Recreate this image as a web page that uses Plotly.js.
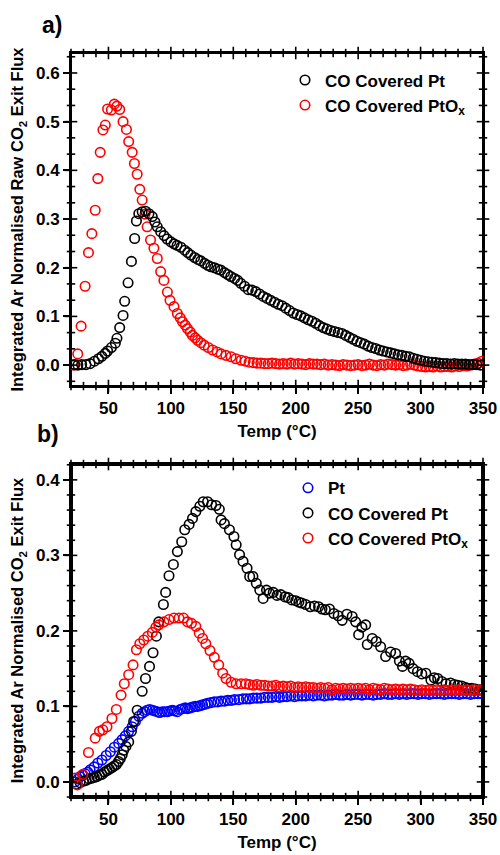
<!DOCTYPE html>
<html>
<head>
<meta charset="utf-8">
<script src="https://cdn.plot.ly/plotly-3.0.1.min.js"></script>
<style>html,body{margin:0;padding:0;background:#fff;}#chart{width:500px;height:855px;}</style>
</head>
<body>
<div id="chart"></div>
<script>
// ---------- Panel a) data ----------
const tempCOPt_a = [23,25.5,28.5,32,35.3,38.8,42,44.7,47.4,49.3,52.3,55.5,56.8,59,61.7,63,65.7,68.4,71,72.4,74.3,77,79.7,82.4,85.1,87.2,89.1,91.8,94.5,97,100,102.5,105,108,111,113.5,116,119,121.5,124,127,129.5,132,135,137.5,140,143,145.5,148,151,153.5,156,159,162,165,168,171,174,177,180,183,186,189,192,195,198,201,204,207,210,213,216,219,222,225,228,231,234,237,240,243,246,249,252,255,258,261,264,267,270,273,276,279,282,285,288,291,294,297,300,303,306,309,312,315,318,321,324,327,330,333,336,339,342,345,348];
const fluxCOPt_a = [0.001,0.000,0.001,0.001,0.003,0.008,0.013,0.018,0.024,0.029,0.036,0.045,0.055,0.077,0.102,0.131,0.169,0.213,0.260,0.296,0.311,0.315,0.316,0.311,0.305,0.294,0.284,0.274,0.266,0.259,0.253,0.249,0.246,0.242,0.236,0.231,0.226,0.221,0.217,0.214,0.209,0.205,0.202,0.200,0.197,0.195,0.190,0.186,0.182,0.178,0.174,0.168,0.162,0.155,0.154,0.151,0.146,0.141,0.137,0.133,0.129,0.125,0.122,0.117,0.112,0.107,0.104,0.101,0.097,0.093,0.090,0.086,0.081,0.077,0.074,0.071,0.069,0.067,0.065,0.061,0.057,0.053,0.049,0.046,0.043,0.039,0.036,0.034,0.031,0.029,0.027,0.025,0.023,0.021,0.020,0.018,0.017,0.014,0.012,0.010,0.008,0.007,0.006,0.005,0.004,0.003,0.003,0.002,0.003,0.002,0.002,0.002,0.001,0.001,0.001,0.000];

const tempCOPtOx_a = [22.4,25.4,28.1,31.3,34,36.7,39.4,41.5,43.4,45.6,47.5,49.3,52.3,54.7,56.8,59,61.7,64.4,66.2,69,70.8,73,75.1,77,79.3,81,83.7,86.4,89.1,91.8,94.4,97.2,99.3,102.5,105.2,107.5,109.3,111.5,113.3,115.5,117.3,119.5,121.4,124,126.7,130,133.4,137,140.2,144,148.2,152,156.3,159.5,162.7,166,169,172,175,178,181,184,187,190,193,196,199,202,205,208,211,214,217,220,223,226,229,232,235,238,241,244,247,250,253,256,259,262,265,268,271,274,277,280,283,286,289,292,295,298,301,304,307,310,313,316,319,322,325,328,331,334,337,340,343,346,349];
const fluxCOPtOx_a = [0.000,0.023,0.080,0.162,0.231,0.270,0.318,0.383,0.437,0.483,0.493,0.526,0.524,0.536,0.532,0.525,0.500,0.484,0.459,0.437,0.414,0.392,0.361,0.339,0.310,0.284,0.257,0.240,0.219,0.192,0.174,0.150,0.133,0.120,0.106,0.097,0.089,0.082,0.075,0.068,0.061,0.056,0.051,0.046,0.041,0.036,0.031,0.027,0.023,0.020,0.017,0.013,0.010,0.008,0.006,0.005,0.004,0.004,0.003,0.003,0.004,0.003,0.002,0.003,0.002,0.004,0.002,0.003,0.002,0.001,0.003,0.002,0.002,0.001,0.002,0.000,0.001,0.000,-0.001,0.001,0.000,-0.001,0.000,0.001,-0.001,0.000,0.002,0.000,-0.001,0.001,0.000,0.002,0.001,0.000,0.001,-0.001,0.000,0.002,0.000,-0.002,-0.003,-0.004,-0.003,-0.004,-0.002,-0.004,-0.003,-0.003,-0.004,-0.002,-0.003,-0.001,-0.002,0.000,0.002,0.004,0.008];

// ---------- Panel b) data ----------
const tempPt_b = [23.2,25.5,27.3,29.5,31.3,33.5,35.3,38.5,41.5,44.8,48.2,51.5,54.7,58.2,60.9,63.5,66.2,69,71.6,74.3,77,79,81,83,85.1,87,89.1,91,93.1,95,97.2,99,101.2,103,105.2,107.5,109.3,111.5,113.3,115.5,117.3,119.5,121.4,123.5,125.4,127.5,129.4,132,134.8,137.5,140.2,143,145.6,148.5,151,154.5,157.8,160.5,163.1,166,169,172,175,178,181,184,187,190,193,196,199,202,205,208,211,214,217,220,223,226,229,232,235,238,241,244,247,250,253,256,259,262,265,268,271,274,277,280,283,286,289,292,295,298,301,304,307,310,313,316,319,322,325,328,331,334,337,340,343,346,349];
const fluxPt_b = [0.000,0.004,0.007,0.009,0.011,0.013,0.016,0.020,0.025,0.029,0.035,0.040,0.046,0.051,0.056,0.061,0.067,0.073,0.080,0.087,0.091,0.093,0.095,0.096,0.095,0.094,0.093,0.092,0.093,0.093,0.093,0.094,0.095,0.094,0.093,0.096,0.097,0.098,0.097,0.098,0.099,0.100,0.100,0.101,0.102,0.103,0.104,0.105,0.106,0.106,0.107,0.107,0.108,0.108,0.109,0.109,0.110,0.110,0.110,0.111,0.111,0.111,0.112,0.112,0.112,0.113,0.112,0.113,0.113,0.114,0.113,0.114,0.114,0.114,0.115,0.114,0.115,0.115,0.114,0.115,0.115,0.116,0.115,0.115,0.116,0.115,0.116,0.116,0.115,0.116,0.116,0.115,0.116,0.116,0.117,0.116,0.116,0.117,0.116,0.117,0.116,0.117,0.117,0.116,0.117,0.117,0.116,0.117,0.117,0.117,0.116,0.117,0.117,0.117,0.116,0.117,0.117,0.116,0.117,0.117,0.117];

const tempCOPt_b = [24.5,27.3,30,32.1,34.5,36.7,38.7,40.7,42.8,44.8,46.8,48.8,50.8,52.8,54.5,56.3,58,59.5,61,62.2,64,66.2,68.4,70.2,73,77,79.7,82.9,85.7,88.4,90.3,94,95.8,98.5,102,105.2,108.7,111.1,114.6,117.3,120,123.2,125.9,129.4,132.6,136.1,138.8,140.2,142.9,146.9,150.5,152.3,155,157.8,161,163.1,165.7,168.4,171.2,173.9,176.6,179,182,185,188,191.4,194,196.8,200,202.5,204.8,208,211.6,215,218.3,221,223.7,227,230.5,234,237.2,241,245.2,248,250.4,253,256,257.3,261.3,264.5,268,272,276,280,283,285.5,288,290.8,294,297.5,301,304.2,308.3,311,313.7,317,320.4,324,327,329.8,333,336,337.9,341,344,347.3,350];
const fluxCOPt_b = [-0.003,-0.001,0.001,0.002,0.004,0.005,0.006,0.007,0.009,0.010,0.013,0.015,0.017,0.019,0.021,0.023,0.027,0.031,0.036,0.042,0.047,0.053,0.067,0.080,0.095,0.120,0.137,0.153,0.171,0.193,0.212,0.235,0.251,0.273,0.288,0.305,0.318,0.334,0.341,0.349,0.358,0.365,0.371,0.371,0.367,0.366,0.361,0.347,0.342,0.334,0.325,0.314,0.301,0.292,0.283,0.272,0.272,0.263,0.254,0.243,0.254,0.250,0.251,0.247,0.248,0.245,0.244,0.241,0.240,0.238,0.237,0.235,0.232,0.233,0.232,0.229,0.228,0.229,0.223,0.220,0.214,0.222,0.219,0.212,0.195,0.205,0.208,0.182,0.190,0.186,0.179,0.166,0.172,0.170,0.160,0.153,0.160,0.157,0.150,0.146,0.143,0.144,0.135,0.138,0.137,0.133,0.130,0.131,0.129,0.128,0.127,0.125,0.124,0.124,0.123,0.122,0.121];

const tempCOPtOx_b = [23.2,25.1,29.4,34,39.4,42.8,45.5,48.8,52.8,56.3,60.1,62.7,66.2,69.7,72.4,75.1,78.3,81.5,85.1,88,90.3,94.4,98.5,102.5,106.5,110.1,113.3,116.5,120,122.7,125.4,128,131.3,134.8,138.3,141.5,144.2,148.2,152.3,156.3,160,163,166,169,172,175,178,181,184,187,190,193,196,199,202,205,208,211,214,217,220,223,226,229,232,235,238,241,244,247,250,253,256,259,262,265,268,271,274,277,280,283,286,289,292,295,298,301,304,307,310,313,316,319,322,325,328,331,334,337,340,343,346,349];
const fluxCOPtOx_b = [0.005,-0.004,0.010,0.039,0.058,0.067,0.069,0.073,0.084,0.096,0.115,0.130,0.142,0.155,0.175,0.183,0.188,0.193,0.198,0.205,0.208,0.212,0.215,0.217,0.217,0.217,0.212,0.210,0.206,0.197,0.190,0.183,0.174,0.165,0.155,0.144,0.137,0.132,0.130,0.130,0.130,0.129,0.128,0.129,0.128,0.128,0.127,0.127,0.128,0.126,0.127,0.126,0.127,0.125,0.126,0.125,0.126,0.125,0.125,0.124,0.125,0.124,0.125,0.122,0.124,0.123,0.124,0.123,0.124,0.123,0.124,0.123,0.124,0.122,0.124,0.123,0.122,0.124,0.123,0.122,0.123,0.122,0.123,0.122,0.123,0.122,0.121,0.122,0.121,0.122,0.121,0.122,0.121,0.122,0.121,0.122,0.121,0.122,0.121,0.122,0.121,0.122,0.121,0.122];

// ---------- Axis tick values ----------
const xMajorTicks = [50, 100, 150, 200, 250, 300, 350];
const xMinorTicks = [20, 30, 40, 60, 70, 80, 90, 110, 120, 130, 140, 160, 170, 180, 190, 210, 220, 230, 240, 260, 270, 280, 290, 310, 320, 330, 340];
const yMajorTicksA = [0.0, 0.1, 0.2, 0.3, 0.4, 0.5, 0.6];
const yMinorTicksA = [-0.0333, 0.0333, 0.0667, 0.1333, 0.1667, 0.2333, 0.2667, 0.3333, 0.3667, 0.4333, 0.4667, 0.5333, 0.5667, 0.6333];
const yMajorTicksB = [0.0, 0.1, 0.2, 0.3, 0.4];
const yMinorTicksB = [-0.02, 0.02, 0.04, 0.06, 0.08, 0.12, 0.14, 0.16, 0.18, 0.22, 0.24, 0.26, 0.28, 0.32, 0.34, 0.36, 0.38, 0.42];

const seriesNames = ['Pt', 'CO Covered Pt', 'CO Covered PtO<sub>x</sub>'];
const seriesColors = ['#0000ff', '#000000', '#ff0000'];
const xTitle = 'Temp (°C)';
const yTitleA = 'Integrated Ar Normalised Raw CO<sub>2</sub> Exit Flux';
const yTitleB = 'Integrated Ar Normalised CO<sub>2</sub> Exit Flux';

const FONT = 'Liberation Sans, Arial, sans-serif';
const W = 500, H = 855;
const xDom = [0.142, 0.966];
const yDomA = [0.5485, 0.938];
const yDomB = [0.0678, 0.4573];
const xRange = [20, 350];
const yRangeA = [-0.043, 0.641];
const yRangeB = [-0.02, 0.421];

function mk(x, y, idx, xa, ya, leg, rank) {
  return {
    x: x, y: y, type: 'scatter', mode: 'markers', name: seriesNames[idx],
    xaxis: xa, yaxis: ya, legend: leg, legendrank: rank,
    marker: {symbol: 'circle-open', size: 9.5, color: seriesColors[idx], line: {width: 1.6, color: seriesColors[idx]}}
  };
}
const traces = [
  mk(tempCOPtOx_a, fluxCOPtOx_a, 2, 'x', 'y', 'legend', 2),
  mk(tempCOPt_a, fluxCOPt_a, 1, 'x', 'y', 'legend', 1),
  mk(tempPt_b, fluxPt_b, 0, 'x2', 'y2', 'legend2', 1),
  mk(tempCOPt_b, fluxCOPt_b, 1, 'x2', 'y2', 'legend2', 2),
  mk(tempCOPtOx_b, fluxCOPtOx_b, 2, 'x2', 'y2', 'legend2', 3)
];

// ---- tick marks as line-symbol markers placed on the panel edges ----
function tickMarkers(xa, ya, yr, majY, minY) {
  const edgeX = (vals, size) => {
    const xs = [], ys = [];
    vals.forEach(v => { xs.push(v, v); ys.push(yr[0], yr[1]); });
    traces.push({x: xs, y: ys, type: 'scatter', mode: 'markers', xaxis: xa, yaxis: ya, showlegend: false, hoverinfo: 'skip', cliponaxis: false,
      marker: {symbol: 'line-ns-open', size: size, color: 'black', line: {width: 1.6, color: 'black'}}});
  };
  const edgeY = (vals, size) => {
    const xs = [], ys = [];
    vals.forEach(v => { xs.push(xRange[0], xRange[1]); ys.push(v, v); });
    traces.push({x: xs, y: ys, type: 'scatter', mode: 'markers', xaxis: xa, yaxis: ya, showlegend: false, hoverinfo: 'skip', cliponaxis: false,
      marker: {symbol: 'line-ew-open', size: size, color: 'black', line: {width: 1.6, color: 'black'}}});
  };
  edgeX(xMajorTicks, 9); edgeX(xMinorTicks, 6);
  edgeY(majY, 9); edgeY(minY, 6);
}
tickMarkers('x', 'y', yRangeA, yMajorTicksA, yMinorTicksA);
tickMarkers('x2', 'y2', yRangeB, yMajorTicksB, yMinorTicksB);

// ---- panel frame: bar outline (panel a) and an SVG frame image (panel b) ----
traces.push({type: 'bar', x: [(xRange[0] + xRange[1]) / 2], y: [yRangeA[1] - yRangeA[0]], base: [yRangeA[0]], width: [xRange[1] - xRange[0]],
  xaxis: 'x', yaxis: 'y', showlegend: false, hoverinfo: 'skip', cliponaxis: false,
  marker: {color: 'rgba(0,0,0,0)', line: {color: 'black', width: 2}}});
const frameSvg = '<svg xmlns="http://www.w3.org/2000/svg" width="412" height="333" viewBox="0 0 412 333" preserveAspectRatio="none">' +
  '<rect x="1" y="1" width="410" height="331" fill="none" stroke="black" stroke-width="2"/></svg>';
const images = [{source: 'data:image/svg+xml;charset=utf-8,' + encodeURIComponent(frameSvg), xref: 'paper', yref: 'paper',
  x: xDom[0], y: yDomB[1], sizex: xDom[1] - xDom[0], sizey: yDomB[1] - yDomB[0], sizing: 'stretch', xanchor: 'left', yanchor: 'top', layer: 'above'}];

const tickFont = {family: FONT, size: 17, color: 'black', weight: 'bold'};
const titleFont = {family: FONT, size: 17, color: 'black', weight: 'bold'};
function xAx(anchor, title) {
  return {domain: xDom, anchor: anchor, range: xRange, showline: true, linewidth: 2, linecolor: 'black', mirror: true,
    ticks: 'outside', ticklen: 6, tickwidth: 1.6, tickcolor: 'black', tick0: 0, dtick: 50,
    showgrid: false, zeroline: false, tickfont: tickFont,
    title: {text: title, font: titleFont, standoff: 8}};
}
function yAx(anchor, dom, range, title) {
  return {domain: dom, anchor: anchor, range: range, showline: true, linewidth: 2, linecolor: 'black', mirror: true,
    ticks: 'outside', ticklen: 6, tickwidth: 1.6, tickcolor: 'black', tick0: 0, dtick: 0.1, tickformat: '.1f',
    showgrid: false, zeroline: false, tickfont: tickFont,
    title: {text: title, font: {family: FONT, size: 16.5, color: 'black', weight: 'bold'}, standoff: 8}};
}

const legFont = {family: FONT, size: 17, color: 'black', weight: 'bold'};
const layout = {
  width: W, height: H, margin: {l: 0, r: 0, t: 0, b: 0},
  paper_bgcolor: 'white', plot_bgcolor: 'white', showlegend: true, barmode: 'overlay',
  xaxis: xAx('y', xTitle),
  yaxis: yAx('x', yDomA, yRangeA, yTitleA),
  xaxis2: xAx('y2', xTitle),
  yaxis2: yAx('x2', yDomB, yRangeB, yTitleB),
  legend: {x: 0.57, y: 0.927, xanchor: 'left', yanchor: 'top', bgcolor: 'rgba(0,0,0,0)', borderwidth: 0, font: legFont, tracegroupgap: 0},
  legend2: {x: 0.576, y: 0.450, xanchor: 'left', yanchor: 'top', bgcolor: 'rgba(0,0,0,0)', borderwidth: 0, font: legFont, tracegroupgap: 0},
  images: images,
  annotations: [
    {text: 'a)', x: 0.104, y: 0.9713, xref: 'paper', yref: 'paper', showarrow: false, xanchor: 'center', yanchor: 'middle', font: {family: FONT, size: 23, color: 'black', weight: 'bold'}},
    {text: 'b)', x: 0.096, y: 0.4924, xref: 'paper', yref: 'paper', showarrow: false, xanchor: 'center', yanchor: 'middle', font: {family: FONT, size: 23, color: 'black', weight: 'bold'}}
  ]
};
Plotly.newPlot('chart', traces, layout, {displayModeBar: false});
</script>
</body>
</html>
